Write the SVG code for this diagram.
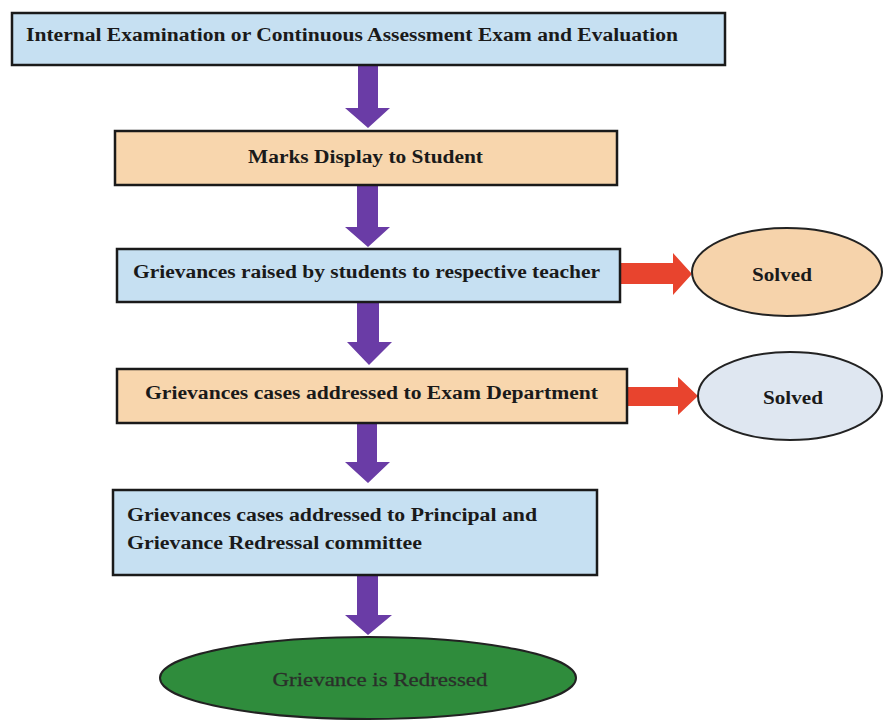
<svg xmlns="http://www.w3.org/2000/svg" width="883" height="721" viewBox="0 0 883 721">
<style>
.box{stroke:#1a1a1a;stroke-width:2.5}
.blue{fill:#c6e0f2}
.orange{fill:#f8d6ad}
.t{font-family:"Liberation Serif","Times New Roman",serif;font-weight:bold;font-size:18.5px;fill:#1a1a1a}
.down{fill:#6a3ca6}
.right{fill:#e8442e}
.ell{stroke:#222;stroke-width:2}
</style>
<rect width="883" height="721" fill="#ffffff"/>
<g id="connectors">
  <path class="down" d="M358 65 H378 V108 H390 L368 128 L345 108 H358 Z"/>
  <path class="down" d="M357 185 H378 V227 H390 L368 247 L345 227 H357 Z"/>
  <path class="down" d="M357 302 H379 V342 H392 L369 365 L347 342 H357 Z"/>
  <path class="down" d="M357 423 H377 V462 H390 L368 483 L345 462 H357 Z"/>
  <path class="down" d="M357 575 H378 V615 H392 L368 635 L345 615 H357 Z"/>
  <path class="right" d="M620 263 H673 V253 L692 274 L673 295 V284 H620 Z"/>
  <path class="right" d="M627 387 H678 V377 L698 396 L678 415 V406 H627 Z"/>
</g>
<g id="n1">
  <rect class="box blue" x="12" y="13" width="713" height="52"/>
  <text class="t" x="26" y="41" textLength="652" lengthAdjust="spacingAndGlyphs">Internal Examination or Continuous Assessment Exam and Evaluation</text>
</g>
<g id="n2">
  <rect class="box orange" x="115" y="131" width="502" height="54"/>
  <text class="t" x="248" y="163" textLength="235" lengthAdjust="spacingAndGlyphs">Marks Display to Student</text>
</g>
<g id="n3">
  <rect class="box blue" x="117" y="249" width="503" height="53"/>
  <text class="t" x="133" y="278" textLength="467" lengthAdjust="spacingAndGlyphs">Grievances raised by students to respective teacher</text>
</g>
<g id="n4">
  <rect class="box orange" x="117" y="369" width="510" height="54"/>
  <text class="t" x="145" y="399" textLength="453" lengthAdjust="spacingAndGlyphs">Grievances cases addressed to Exam Department</text>
</g>
<g id="n5">
  <rect class="box blue" x="113" y="490" width="484" height="85"/>
  <text class="t" x="127" y="521" textLength="410" lengthAdjust="spacingAndGlyphs">Grievances cases addressed to Principal and</text>
  <text class="t" x="127" y="549" textLength="295" lengthAdjust="spacingAndGlyphs">Grievance Redressal committee</text>
</g>
<g id="s1">
  <ellipse class="ell" cx="787" cy="272" rx="95" ry="44" fill="#f6d3ab"/>
  <text class="t" x="782" y="281" text-anchor="middle" textLength="60" lengthAdjust="spacingAndGlyphs">Solved</text>
</g>
<g id="s2">
  <ellipse class="ell" cx="790" cy="396" rx="92" ry="44" fill="#dfe7f1"/>
  <text class="t" x="793" y="404" text-anchor="middle" textLength="60" lengthAdjust="spacingAndGlyphs">Solved</text>
</g>
<g id="end">
  <ellipse class="ell" cx="368" cy="678" rx="208" ry="41" fill="#2f8c3c" stroke="#1f4a26"/>
  <text x="380" y="686" text-anchor="middle" textLength="215" lengthAdjust="spacingAndGlyphs" style="font-family:'Liberation Serif','Times New Roman',serif;font-size:18.5px;fill:#2a2f2a;stroke:#2a2f2a;stroke-width:0.3">Grievance is Redressed</text>
</g>
</svg>
